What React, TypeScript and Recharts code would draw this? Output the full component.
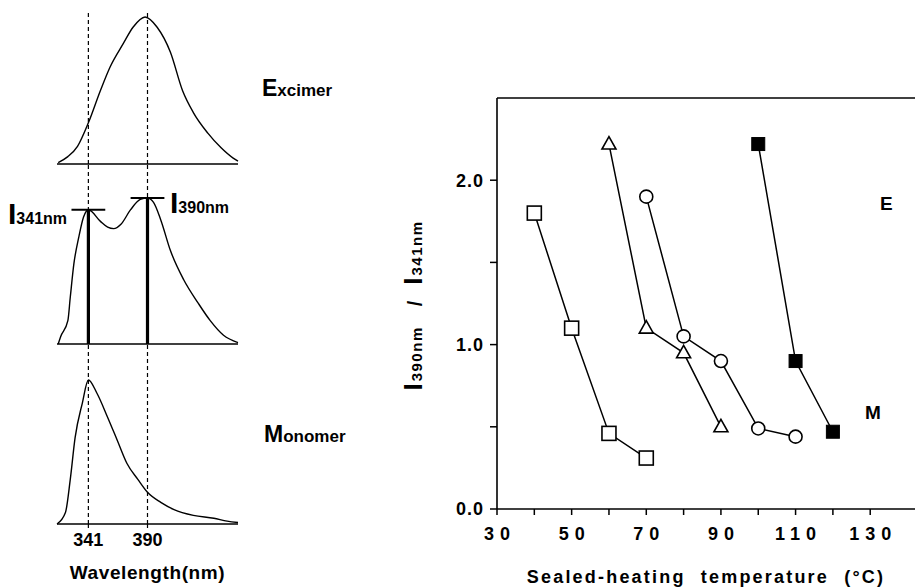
import React from 'react';
import { LineChart, Line, XAxis, YAxis, ReferenceLine } from 'recharts';

// left: emission spectra, wavelength (nm) vs relative intensity
const excimerNm = [316, 324, 332, 341, 351, 359, 370, 378, 388, 398, 409, 419, 428, 440, 451, 461, 465];
const excimerI = [0.01, 0.05, 0.12, 0.28, 0.5, 0.66, 0.82, 0.93, 1.0, 0.93, 0.76, 0.5, 0.35, 0.21, 0.11, 0.04, 0.02];
const mixedNm = [316, 318, 324, 326, 329, 333, 337, 341, 351, 357, 362, 368, 376, 384, 390, 395, 401, 409, 420, 432, 442, 453, 465];
const mixedI = [0, 0.05, 0.16, 0.32, 0.55, 0.73, 0.87, 0.92, 0.84, 0.8, 0.79, 0.82, 0.92, 0.99, 1.0, 0.97, 0.85, 0.64, 0.44, 0.28, 0.16, 0.06, 0.01];
const monomerNm = [315, 322, 326, 330, 336, 341, 348, 357, 365, 373, 382, 390, 401, 412, 428, 445, 456, 465];
const monomerI = [0, 0.08, 0.31, 0.6, 0.84, 1.0, 0.91, 0.74, 0.58, 0.42, 0.31, 0.22, 0.15, 0.1, 0.06, 0.04, 0.02, 0.01];
const markNm = [341, 390];

// right: I390/I341 ratio vs sealed-heating temperature (°C)
const tempOpenSq = [40, 50, 60, 70];
const ratioOpenSq = [1.8, 1.1, 0.46, 0.31];
const tempTri = [60, 70, 80, 90];
const ratioTri = [2.22, 1.1, 0.95, 0.5];
const tempCircle = [70, 80, 90, 100, 110];
const ratioCircle = [1.9, 1.05, 0.9, 0.49, 0.44];
const tempFilledSq = [100, 110, 120];
const ratioFilledSq = [2.22, 0.9, 0.47];

const tempTicks = [30, 40, 50, 60, 70, 80, 90, 100, 110, 120, 130];
const tempLabels = [30, 50, 70, 90, 110, 130];
const ratioTicks = [0, 0.5, 1, 1.5, 2];
const ratioLabels = [0, 1, 2];

const FONT = '"Liberation Sans", Arial, Helvetica, sans-serif';

const spec = (xs: number[], ys: number[]) => xs.map((x, i) => ({ x, y: ys[i] }));
const pts = (xs: number[], ys: number[]) => xs.map((t, i) => ({ t, r: ys[i] }));

const peakAt = (nm: number) => mixedI[mixedNm.indexOf(nm)];

function Spectrum(props: any) {
  const { data, top, height, mt, mb, yMax, axis, bars } = props;
  return (
    <div style={{ position: 'absolute', left: 0, top }}>
      <LineChart width={250} height={height} data={data} margin={{ top: mt, right: 12, bottom: mb, left: 57 }}>
        <XAxis
          type="number"
          dataKey="x"
          domain={[315, 465]}
          ticks={markNm}
          hide={!axis}
          height={63}
          tickSize={4}
          tickMargin={5}
          axisLine={{ stroke: '#000', strokeWidth: 1.5 }}
          tickLine={{ stroke: '#000', strokeWidth: 1.2 }}
          tick={{ fill: '#000', fontSize: 18, fontWeight: 700, fontFamily: FONT }}
          label={{ value: 'Wavelength(nm)', position: 'insideBottom', offset: 8, fill: '#000', fontSize: 19, fontWeight: 700, fontFamily: FONT, letterSpacing: 0.6 }}
        />
        <YAxis hide type="number" domain={[0, yMax]} />
        {!axis && <ReferenceLine y={0} stroke="#000" strokeWidth={1.5} />}
        {markNm.map((nm) => (
          <ReferenceLine key={nm} x={nm} stroke="#000" strokeWidth={1.2} strokeDasharray="4 3" />
        ))}
        {bars &&
          markNm.map((nm) => (
            <ReferenceLine key={'b' + nm} segment={[{ x: nm, y: 0 }, { x: nm, y: peakAt(nm) }]} stroke="#000" strokeWidth={3.2} />
          ))}
        {bars &&
          markNm.map((nm) => (
            <ReferenceLine key={'c' + nm} segment={[{ x: nm - 14, y: peakAt(nm) }, { x: nm + 14, y: peakAt(nm) }]} stroke="#000" strokeWidth={2} />
          ))}
        <Line type="monotone" dataKey="y" stroke="#000" strokeWidth={1.4} dot={false} isAnimationActive={false} />
      </LineChart>
    </div>
  );
}

const openSquare = (p: any) => (
  <rect key={'s' + p.index} x={p.cx - 7} y={p.cy - 7} width={14} height={14} fill="#fff" stroke="#000" strokeWidth={1.6} />
);
const filledSquare = (p: any) => (
  <rect key={'f' + p.index} x={p.cx - 6.5} y={p.cy - 6.5} width={13} height={13} fill="#000" stroke="#000" strokeWidth={1} />
);
const openCircle = (p: any) => (
  <circle key={'c' + p.index} cx={p.cx} cy={p.cy} r={6.5} fill="#fff" stroke="#000" strokeWidth={1.6} />
);
const openTriangle = (p: any) => (
  <polygon
    key={'t' + p.index}
    points={`${p.cx},${p.cy - 7.5} ${p.cx - 7},${p.cy + 5} ${p.cx + 7},${p.cy + 5}`}
    fill="#fff"
    stroke="#000"
    strokeWidth={1.6}
  />
);

const TempTick = (p: any) => {
  const v = p.payload.value;
  return (
    <text x={p.x + 3} y={p.y} dy="0.71em" textAnchor="middle" fill="#000" fontSize={18} fontWeight={700} fontFamily={FONT} letterSpacing={6}>
      {tempLabels.includes(v) ? String(v) : ''}
    </text>
  );
};

const RatioTick = (p: any) => {
  const v = p.payload.value;
  return (
    <text x={p.x} y={p.y} dy="0.36em" textAnchor="end" fill="#000" fontSize={18} fontWeight={700} fontFamily={FONT} letterSpacing={1}>
      {ratioLabels.includes(v) ? v.toFixed(1) : ''}
    </text>
  );
};

const XTitle = (p: any) => {
  const vb = p.viewBox;
  return (
    <text x={vb.x + vb.width / 2} y={vb.y + 74} textAnchor="middle" fill="#000" fontSize={18} fontWeight={700} fontFamily={FONT} letterSpacing={2.2} wordSpacing={8}>
      Sealed-heating temperature (°C)
    </text>
  );
};

const YTitle = (p: any) => {
  const vb = p.viewBox;
  const cx = vb.x + 42;
  const cy = vb.y + vb.height / 2 + 2;
  return (
    <text transform={`translate(${cx},${cy}) rotate(-90)`} textAnchor="middle" fill="#000" fontWeight={700} fontFamily={FONT}>
      <tspan fontSize={26}>I</tspan>
      <tspan fontSize={15} dx={2} letterSpacing={1.5}>390nm</tspan>
      <tspan fontSize={20} dx={20}>/</tspan>
      <tspan fontSize={26} dx={16}>I</tspan>
      <tspan fontSize={15} dx={2} letterSpacing={1.5}>341nm</tspan>
    </text>
  );
};

export default function App() {
  return (
    <div style={{ position: 'absolute', left: 0, top: 0, width: 915, height: 587, background: '#fff', overflow: 'hidden' }}>
      <Spectrum data={spec(excimerNm, excimerI)} top={0} height={170} mt={13} mb={6} yMax={1.027} />
      <Spectrum data={spec(mixedNm, mixedI)} top={160} height={190} mt={4} mb={6} yMax={1.233} bars />
      <Spectrum data={spec(monomerNm, monomerI)} top={340} height={247} mt={4} mb={0} yMax={1.25} axis />

      <div style={{ position: 'absolute', left: 380, top: 60 }}>
        <LineChart width={535} height={527} margin={{ top: 38, right: 0, bottom: 0, left: 0 }}>
          <XAxis
            type="number"
            dataKey="t"
            domain={[30, 142]}
            allowDataOverflow
            ticks={tempTicks}
            height={78}
            tickSize={6}
            tickMargin={12}
            axisLine={{ stroke: '#000', strokeWidth: 1.6 }}
            tickLine={{ stroke: '#000', strokeWidth: 1.5 }}
            tick={<TempTick />}
            label={<XTitle />}
          />
          <YAxis
            type="number"
            domain={[0, 2.5]}
            ticks={ratioTicks}
            width={117}
            tickSize={7}
            tickMargin={6}
            axisLine={{ stroke: '#000', strokeWidth: 1.6 }}
            tickLine={{ stroke: '#000', strokeWidth: 1.5 }}
            tick={<RatioTick />}
            label={<YTitle />}
          />
          <ReferenceLine y={2.5} stroke="#000" strokeWidth={1.6} />
          <Line data={pts(tempOpenSq, ratioOpenSq)} dataKey="r" stroke="#000" strokeWidth={1.5} dot={openSquare} isAnimationActive={false} />
          <Line data={pts(tempTri, ratioTri)} dataKey="r" stroke="#000" strokeWidth={1.5} dot={openTriangle} isAnimationActive={false} />
          <Line data={pts(tempCircle, ratioCircle)} dataKey="r" stroke="#000" strokeWidth={1.5} dot={openCircle} isAnimationActive={false} />
          <Line data={pts(tempFilledSq, ratioFilledSq)} dataKey="r" stroke="#000" strokeWidth={1.5} dot={filledSquare} isAnimationActive={false} />
        </LineChart>
      </div>

      <svg width={915} height={587} style={{ position: 'absolute', left: 0, top: 0, pointerEvents: 'none' }}>
        <g fill="#000" fontFamily={FONT} fontWeight={700}>
          <text x={262} y={96}>
            <tspan fontSize={23}>E</tspan>
            <tspan fontSize={17}>xcimer</tspan>
          </text>
          <text x={264} y={442}>
            <tspan fontSize={23}>M</tspan>
            <tspan fontSize={17}>onomer</tspan>
          </text>
          <text x={8} y={224}>
            <tspan fontSize={30}>I</tspan>
            <tspan fontSize={16}>341nm</tspan>
          </text>
          <text x={170} y={213}>
            <tspan fontSize={30}>I</tspan>
            <tspan fontSize={16}>390nm</tspan>
          </text>
          <text x={880} y={210} fontSize={19}>E</text>
          <text x={865} y={419} fontSize={19}>M</text>
        </g>
      </svg>
    </div>
  );
}
